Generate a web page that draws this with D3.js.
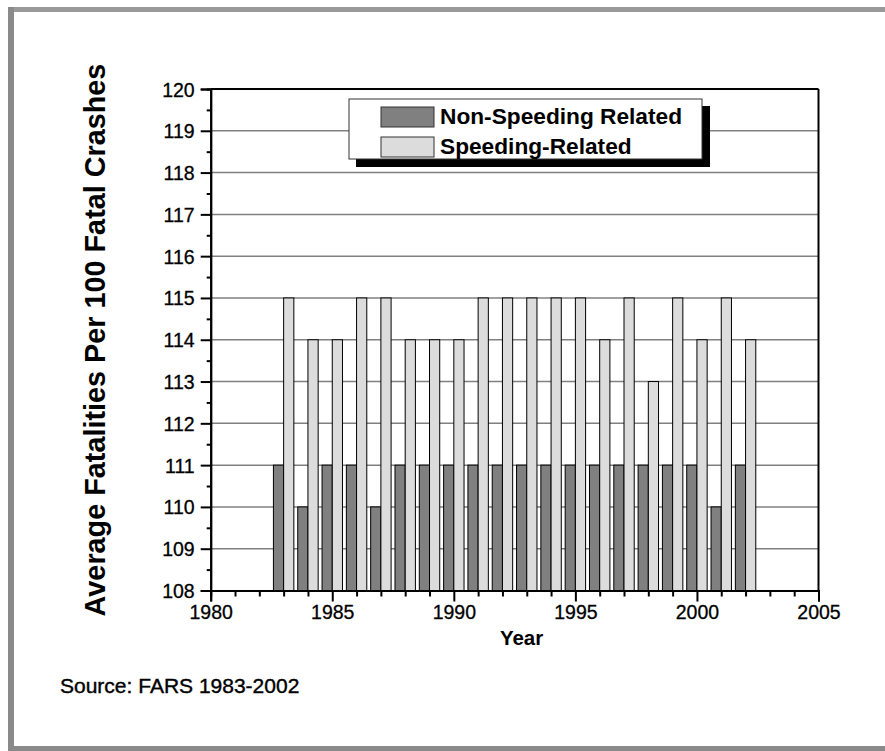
<!DOCTYPE html>
<html>
<head>
<meta charset="utf-8">
<script src="https://cdn.jsdelivr.net/npm/d3@7/dist/d3.min.js"></script>
<style>
  html, body { margin: 0; padding: 0; background: #fff; }
  svg { display: block; font-family: Arial, "Liberation Sans", sans-serif; }
</style>
</head>
<body>
<svg id="chart" width="885" height="751"></svg>
<script>
const years = [1983,1984,1985,1986,1987,1988,1989,1990,1991,1992,1993,1994,1995,1996,1997,1998,1999,2000,2001,2002];
const nonSpeeding = [111,110,111,111,110,111,111,111,111,111,111,111,111,111,111,111,111,111,110,111];
const speeding = [115,114,114,115,115,114,114,114,115,115,115,115,115,114,115,113,115,114,115,114];
const seriesNames = ["Non-Speeding Related", "Speeding-Related"];
const yTicks = [108,109,110,111,112,113,114,115,116,117,118,119,120];
const xTicks = [1980,1985,1990,1995,2000,2005];

const svg = d3.select("#chart");
const W = 885, H = 751;
const L = 210.7, R = 818.5, T = 89, B = 590.5;
const x = d3.scaleLinear().domain([1980, 2005]).range([L, R]);
const y = d3.scaleLinear().domain([108, 120]).range([B, T]);
const colors = ["#808080", "#dcdcdc"];
const bw = 0.42;

// outer frame
svg.append("rect").attr("x", 8).attr("y", 7).attr("width", W).attr("height", 5).attr("fill", "#9a9a9a");
svg.append("rect").attr("x", 8).attr("y", 7).attr("width", 6).attr("height", H).attr("fill", "#8a8a8a");
svg.append("rect").attr("x", 8).attr("y", 746).attr("width", W).attr("height", 5).attr("fill", "#8a8a8a");

// gridlines
svg.append("g").selectAll("line").data(yTicks.filter(d => d > 108 && d < 120)).join("line")
  .attr("x1", L).attr("x2", R).attr("y1", d => y(d)).attr("y2", d => y(d))
  .attr("stroke", "#808080").attr("stroke-width", 1.5);

// bars
const g = svg.append("g");
g.selectAll("rect.ns").data(years).join("rect").attr("class", "ns")
  .attr("x", d => x(d - bw)).attr("width", d => x(d) - x(d - bw))
  .attr("y", (d, i) => y(nonSpeeding[i])).attr("height", (d, i) => y(108) - y(nonSpeeding[i]))
  .attr("fill", colors[0]).attr("stroke", "#000").attr("stroke-width", 1);
g.selectAll("rect.sp").data(years).join("rect").attr("class", "sp")
  .attr("x", d => x(d)).attr("width", d => x(d + bw) - x(d))
  .attr("y", (d, i) => y(speeding[i])).attr("height", (d, i) => y(108) - y(speeding[i]))
  .attr("fill", colors[1]).attr("stroke", "#000").attr("stroke-width", 1);

// frame top/right
svg.append("line").attr("x1", L).attr("x2", R).attr("y1", T).attr("y2", T).attr("stroke", "#000").attr("stroke-width", 2);
svg.append("line").attr("x1", R).attr("x2", R).attr("y1", T).attr("y2", B).attr("stroke", "#000").attr("stroke-width", 2);

// y axis
const yAxis = svg.append("g").attr("transform", `translate(${L},0)`)
  .call(d3.axisLeft(y).tickValues(yTicks).tickSize(10).tickPadding(6).tickFormat(d3.format("d")));
const yMinor = svg.append("g").attr("transform", `translate(${L},0)`)
  .call(d3.axisLeft(y).tickValues(yTicks.slice(0, -1).map(d => d + 0.5)).tickSize(4).tickFormat(""));
// x axis
const xAxis = svg.append("g").attr("transform", `translate(0,${B})`)
  .call(d3.axisBottom(x).tickValues(xTicks).tickSize(11).tickPadding(4).tickFormat(d3.format("d")));
const xMinor = svg.append("g").attr("transform", `translate(0,${B})`)
  .call(d3.axisBottom(x).tickValues(d3.range(1981, 2005).filter(d => d % 5 !== 0)).tickSize(6).tickFormat(""));

[yAxis, yMinor, xAxis, xMinor].forEach(a => {
  a.select(".domain").attr("stroke", "#000").attr("stroke-width", 2);
  a.selectAll(".tick line").attr("stroke", "#000").attr("stroke-width", 2);
  a.selectAll(".tick text").attr("fill", "#000").style("font-size", "19.5px")
    .attr("stroke", "#000").attr("stroke-width", 0.3)
    .style("font-family", "Arial, 'Liberation Sans', sans-serif");
});
yAxis.selectAll(".tick text").attr("dy", "0.36em");

// axis titles
svg.append("text").attr("x", (x(1980) + x(2005)) / 2 + 7).attr("y", 645)
  .attr("text-anchor", "middle").attr("font-weight", "bold").style("font-size", "20.5px").text("Year");
svg.append("text").attr("transform", `translate(105,340) rotate(-90)`)
  .attr("text-anchor", "middle").attr("font-weight", "bold").style("font-size", "28.8px")
  .text("Average Fatalities Per 100 Fatal Crashes");

// legend
const lg = svg.append("g");
lg.append("rect").attr("x", 356).attr("y", 106).attr("width", 354).attr("height", 61).attr("fill", "#000");
lg.append("rect").attr("x", 349).attr("y", 99).attr("width", 353).attr("height", 60).attr("fill", "#fff").attr("stroke", "#333").attr("stroke-width", 1);
const lgItems = lg.selectAll("g.item").data(seriesNames).join("g").attr("class", "item")
  .attr("transform", (d, i) => `translate(0,${i * 30})`);
lgItems.append("rect").attr("x", 381).attr("y", 107).attr("width", 53).attr("height", 20)
  .attr("fill", (d, i) => colors[i]).attr("stroke", "#333").attr("stroke-width", 1);
lgItems.append("text").attr("x", 440).attr("y", 123.5).attr("font-weight", "bold").style("font-size", "22.7px").text(d => d);

// source
svg.append("text").attr("x", 60).attr("y", 693).style("font-size", "21px")
  .attr("stroke", "#000").attr("stroke-width", 0.4).text("Source: FARS 1983-2002");
</script>
</body>
</html>
